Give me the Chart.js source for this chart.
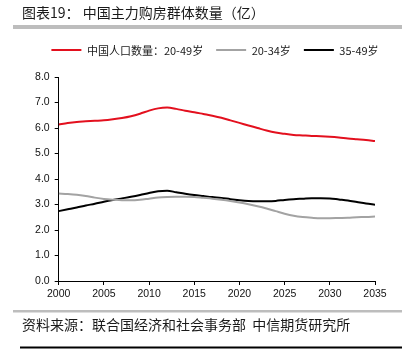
<!DOCTYPE html>
<html>
<head>
<meta charset="utf-8">
<script src="https://cdn.jsdelivr.net/npm/chart.js@4/dist/chart.umd.min.js"></script>
<style>
html,body{margin:0;padding:0;background:#fff;}
#wrap{position:relative;width:402px;height:354px;}
</style>
</head>
<body>
<div id="wrap"><canvas id="c" width="402" height="354"></canvas></div>
<script>
const titleText = "图表19： 中国主力购房群体数量（亿）";
const sourceText = "资料来源：联合国经济和社会事务部  中信期货研究所";
const years = [2000,2001,2002,2003,2004,2005,2006,2007,2008,2009,2010,2011,2012,2013,2014,2015,2016,2017,2018,2019,2020,2021,2022,2023,2024,2025,2026,2027,2028,2029,2030,2031,2032,2033,2034,2035];
const seriesNames = ["中国人口数量：20-49岁", "20-34岁", "35-49岁"];
const total2049 = [6.14,6.20,6.24,6.26,6.28,6.30,6.34,6.39,6.46,6.56,6.68,6.77,6.80,6.75,6.68,6.62,6.55,6.48,6.40,6.30,6.20,6.10,6.00,5.90,5.82,5.77,5.73,5.71,5.69,5.68,5.66,5.63,5.59,5.56,5.53,5.49];
const age2034 = [3.43,3.41,3.38,3.33,3.27,3.22,3.19,3.17,3.17,3.19,3.23,3.27,3.29,3.30,3.30,3.29,3.26,3.23,3.19,3.14,3.08,3.01,2.93,2.84,2.74,2.64,2.56,2.51,2.48,2.46,2.46,2.47,2.48,2.50,2.51,2.53];
const age3549 = [2.74,2.81,2.88,2.96,3.03,3.11,3.18,3.24,3.30,3.37,3.45,3.52,3.54,3.48,3.42,3.37,3.33,3.29,3.26,3.21,3.17,3.14,3.13,3.13,3.14,3.18,3.21,3.23,3.25,3.25,3.24,3.20,3.16,3.10,3.04,2.99];
const yTicks = [0,1,2,3,4,5,6,7,8];
const xTicks = [2000,2005,2010,2015,2020,2025,2030,2035];

const colors = ["#e3101e", "#a3a3a3", "#000000"];
const allSeries = [total2049, age2034, age3549];

const cjk = "'Noto Sans CJK SC', 'Noto Sans', sans-serif";
const num = "'Liberation Sans', Arial, sans-serif";

const decor = {
  id: 'decor',
  afterDraw(chart) {
    const ctx = chart.ctx;
    ctx.save();
    ctx.fillStyle = '#1a1a1a';
    ctx.font = "14px " + cjk;
    ctx.textBaseline = 'middle';
    ctx.textAlign = 'left';
    ctx.fillText(titleText, 22, 13);
    ctx.fillStyle = '#bdbdbd';
    ctx.fillRect(13, 25, 389, 4);
    ctx.font = "11px " + cjk;
    const boxW = 30, gap = 5.5, pad = 13;
    const widths = seriesNames.map(t => boxW + gap + ctx.measureText(t).width);
    const tot = widths.reduce((a,b)=>a+b,0) + pad*(widths.length-1);
    let x = 215 - tot/2;
    const ly = 50;
    seriesNames.forEach((t,i) => {
      ctx.strokeStyle = colors[i];
      ctx.lineWidth = 2;
      ctx.beginPath();
      ctx.moveTo(x, ly);
      ctx.lineTo(x+boxW, ly);
      ctx.stroke();
      ctx.fillStyle = '#1a1a1a';
      ctx.fillText(t, x+boxW+gap, ly+0.5);
      x += widths[i] + pad;
    });
    ctx.fillStyle = '#bdbdbd';
    ctx.fillRect(13, 310, 389, 2.5);
    ctx.fillStyle = '#1a1a1a';
    ctx.font = "14px " + cjk;
    ctx.fillText(sourceText, 22, 325);
    ctx.fillStyle = '#000';
    ctx.fillRect(20, 346.5, 382, 2);
    ctx.restore();
  }
};

new Chart(document.getElementById('c'), {
  type: 'line',
  data: {
    datasets: allSeries.map((s, i) => ({
      label: seriesNames[i],
      data: years.map((y, j) => ({x: y, y: s[j]})),
      borderColor: colors[i],
      backgroundColor: colors[i],
      borderWidth: 2,
      pointRadius: 0,
      tension: 0.4,
      cubicInterpolationMode: 'monotone',
      fill: false
    }))
  },
  options: {
    responsive: false,
    animation: false,
    devicePixelRatio: 1,
    layout: {padding: {left: 0, right: 27, top: 77, bottom: 48}},
    plugins: {legend: {display: false}, tooltip: {enabled: false}, title: {display: false}},
    scales: {
      x: {
        type: 'linear',
        min: 2000, max: 2035,
        afterBuildTicks(scale){ scale.ticks = xTicks.map(v => ({value: v})); },
        afterFit(scale){ scale.height = 25; },
        ticks: {
          color: '#111', font: {family: num, size: 10.5}, padding: 3,
          maxRotation: 0, autoSkip: false,
          callback: v => String(v)
        },
        grid: {display: true, drawOnChartArea: false, drawTicks: true, tickLength: 4, color: '#000', lineWidth: 1},
        border: {display: true, color: '#000', width: 1}
      },
      y: {
        min: 0, max: 8,
        afterBuildTicks(scale){ scale.ticks = yTicks.map(v => ({value: v})); },
        afterFit(scale){ scale.width = 58.7; },
        ticks: {
          color: '#111', font: {family: num, size: 10.5}, padding: 5,
          callback: v => Number(v).toFixed(1)
        },
        grid: {display: true, drawOnChartArea: false, drawTicks: true, tickLength: 4, color: '#000', lineWidth: 1},
        border: {display: true, color: '#000', width: 1}
      }
    }
  },
  plugins: [decor]
});
</script>
</body>
</html>
